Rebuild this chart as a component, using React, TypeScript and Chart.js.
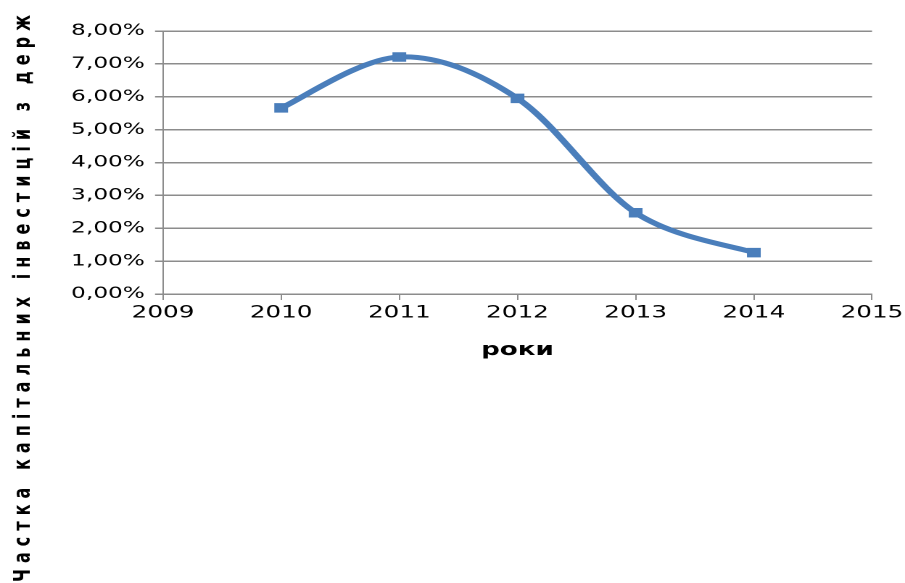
import React, { useEffect, useRef } from 'react';
import { Chart, registerables } from 'chart.js';

Chart.register(...registerables);

// ---- data ----
const years: number[] = [2010, 2011, 2012, 2013, 2014];
const shares: number[] = [5.66, 7.21, 5.95, 2.47, 1.26];
const xMin = 2009;
const xMax = 2015;
const yMin = 0;
const yMax = 8;
const yStep = 1;
const xTitle = 'роки';
const yTitle = 'Частка капітальних інвестицій з держ';

// ---- layout ----
const PAGE_W = 905;
const PAGE_H = 583;
const LOGICAL_W = 624; // canvas is drawn narrower and stretched horizontally, like the reference
const S = PAGE_W / LOGICAL_W;
const AREA_LEFT = 163;
const AREA_RIGHT = 872;
const AREA_TOP = 31;
const AREA_BOTTOM = 294;
const LINE_COLOR = '#4A7EBB';
const GRID_COLOR = '#8c8c8c';
const FONT = '"DejaVu Sans", Verdana, sans-serif';

// Excel-style smoothing: Bezier handles = (next - prev) / 6 on the library's own point positions
const smoothPlugin = {
  id: 'excelSmooth',
  beforeDatasetsDraw(chart: any) {
    const meta = chart.getDatasetMeta(0);
    if (!meta || !meta.dataset) return;
    meta.dataset.updateControlPoints(chart.chartArea, meta.iScale ? meta.iScale.axis : 'x');
    const pts = meta.data;
    for (let i = 0; i < pts.length; i++) {
      const p = pts[i];
      const prev = pts[i - 1] || p;
      const next = pts[i + 1] || p;
      const dx = (next.x - prev.x) / 6;
      const dy = (next.y - prev.y) / 6;
      p.cp1x = p.x - dx;
      p.cp1y = p.y - dy;
      p.cp2x = p.x + dx;
      p.cp2y = p.y + dy;
    }
    meta.dataset._path = undefined;
  },
};

const titlesPlugin = {
  id: 'titles',
  afterDraw(chart: any) {
    const ctx: CanvasRenderingContext2D = chart.ctx;
    const { left, right, bottom } = chart.chartArea;
    ctx.save();
    ctx.fillStyle = '#000';
    ctx.font = `bold 18px ${FONT}`;
    ctx.textAlign = 'center';
    ctx.textBaseline = 'alphabetic';
    ctx.fillText(xTitle, (left + right) / 2, bottom + 61);
    ctx.restore();

    ctx.save();
    ctx.fillStyle = '#000';
    ctx.font = `bold 16px ${FONT}`;
    ctx.textAlign = 'left';
    ctx.textBaseline = 'alphabetic';
    (ctx as any).letterSpacing = '0px';
    const w = ctx.measureText(yTitle).width;
    const spacing = (567 - w) / (yTitle.length - 1);
    (ctx as any).letterSpacing = `${spacing}px`;
    ctx.translate(30 / S, 582);
    ctx.rotate(-Math.PI / 2);
    ctx.fillText(yTitle, 0, 0);
    ctx.restore();
  },
};

export default function App() {
  const ref = useRef<HTMLCanvasElement | null>(null);

  useEffect(() => {
    if (!ref.current) return;
    const chart = new Chart(ref.current, {
      type: 'line',
      data: {
        datasets: [
          {
            data: years.map((x, i) => ({ x, y: shares[i] })),
            borderColor: LINE_COLOR,
            backgroundColor: LINE_COLOR,
            borderWidth: 5,
            tension: 0.4,
            pointStyle: 'rect',
            pointRadius: 6,
            pointBorderWidth: 1,
            pointBorderColor: LINE_COLOR,
            pointBackgroundColor: LINE_COLOR,
            clip: false as any,
          },
        ],
      },
      options: {
        animation: false,
        responsive: false,
        devicePixelRatio: 2,
        layout: {
          padding: {
            top: AREA_TOP,
            left: 0,
            bottom: 0,
            right: LOGICAL_W - AREA_RIGHT / S,
          },
        },
        plugins: {
          legend: { display: false },
          tooltip: { enabled: false },
        },
        scales: {
          x: {
            type: 'linear',
            min: xMin,
            max: xMax,
            ticks: {
              stepSize: 1,
              callback: (v: any) => String(v),
              color: '#000',
              font: { family: FONT, size: 17 },
              padding: 3,
              maxRotation: 0,
              autoSkip: false,
            },
            grid: {
              drawOnChartArea: false,
              color: GRID_COLOR,
              lineWidth: 1,
              tickLength: 6,
            },
            border: { color: GRID_COLOR, width: 1.5 },
            afterFit: (s: any) => {
              s.height = PAGE_H - AREA_BOTTOM;
              s.paddingLeft = 0;
              s.paddingRight = 0;
            },
          },
          y: {
            min: yMin,
            max: yMax,
            ticks: {
              stepSize: yStep,
              callback: (v: any) => Number(v).toFixed(2).replace('.', ',') + '%',
              color: '#000',
              font: { family: FONT, size: 16 },
              padding: 7,
            },
            grid: {
              color: GRID_COLOR,
              lineWidth: 1.5,
              tickLength: 5.5,
            },
            border: { color: GRID_COLOR, width: 1 },
            afterFit: (s: any) => {
              s.width = AREA_LEFT / S;
              s.paddingTop = 0;
              s.paddingBottom = 0;
            },
          },
        },
      },
      plugins: [smoothPlugin, titlesPlugin],
    });
    return () => chart.destroy();
  }, []);

  return (
    <div style={{ position: 'fixed', left: 0, top: 0, width: PAGE_W, height: PAGE_H, background: '#fff', overflow: 'hidden' }}>
      <canvas
        ref={ref}
        width={LOGICAL_W}
        height={PAGE_H}
        style={{ width: `${PAGE_W}px`, height: `${PAGE_H}px`, display: 'block' }}
      />
    </div>
  );
}
